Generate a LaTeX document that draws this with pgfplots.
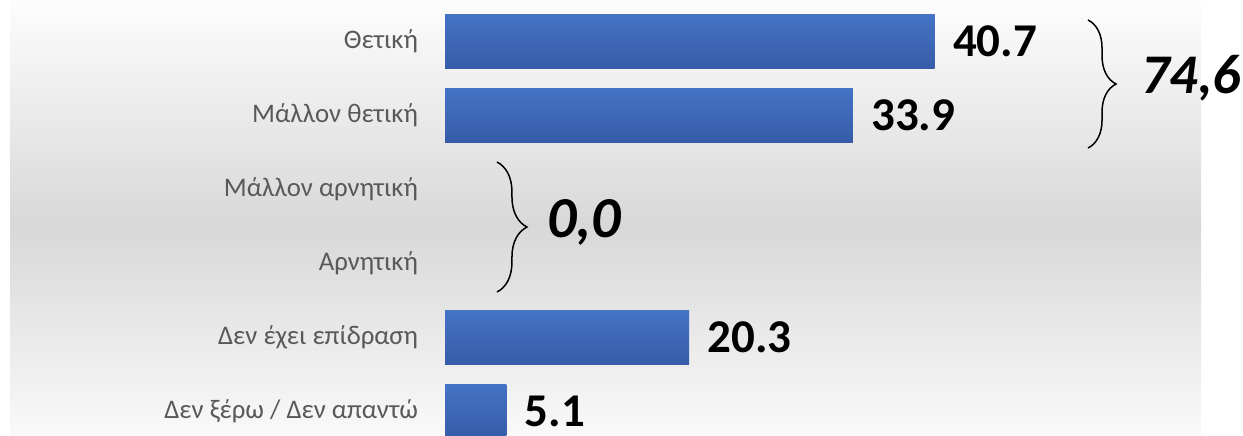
\documentclass[border=0pt]{standalone}
\usepackage{pgfplots}
\pgfplotsset{compat=1.18}
\usepackage{fontspec}
\setmainfont{Carlito}
\usetikzlibrary{decorations.pathreplacing}
\definecolor{barTop}{RGB}{69,115,197}
\definecolor{barBot}{RGB}{54,92,168}
\definecolor{lbl}{RGB}{89,89,89}
\definecolor{bgMid}{RGB}{216,216,216}
\definecolor{bgTop}{RGB}{253,253,253}
\definecolor{bgBot}{RGB}{249,249,249}
\begin{document}
\begin{tikzpicture}
\path[use as bounding box] (0pt,0pt) rectangle (621.5pt,-217.5pt);
\begin{scope}[x=0.5pt,y=-0.5pt]
\shade[top color=bgTop, bottom color=bgMid] (10,0) rectangle (1201,226);
\shade[top color=bgMid, bottom color=bgBot] (10,225) rectangle (1201,435);
\end{scope}
\begin{axis}[
  at={(222.5pt,0pt)}, anchor=north west,
  scale only axis, width=399pt, height=217.5pt,
  xmin=0, xmax=66.33, ymin=-0.554, ymax=5.324, y dir=reverse,
  xbar, bar width=27pt, bar shift=0pt,
  axis line style={draw=none}, major tick style={draw=none},
  xtick=\empty, ytick={0,1,2,3,4,5},
  yticklabels={Θετική, Μάλλον θετική, Μάλλον αρνητική, Αρνητική, Δεν έχει επίδραση, Δεν ξέρω / Δεν απαντώ},
  yticklabel style={font=\fontsize{13.4}{15}\selectfont, text=lbl, inner xsep=0pt, xshift=-9pt},
  point meta=explicit symbolic,
  nodes near coords,
  nodes near coords style={anchor=west, font=\bfseries\fontsize{23.5}{26}\selectfont, text=black, xshift=9pt, inner xsep=0pt},
  every axis plot/.append style={draw=none, top color=barTop, bottom color=barBot},
]
\addplot coordinates {(40.7,0) [40.7]};
\addplot coordinates {(33.9,1) [33.9]};
\addplot coordinates {(20.3,4) [20.3]};
\addplot coordinates {(5.1,5) [5.1]};
\draw[line width=0.75pt, decorate, decoration={brace, amplitude=14pt}] (axis cs:53.45,-0.284) -- (axis cs:53.45,1.446);
\draw[line width=0.75pt, decorate, decoration={brace, amplitude=15pt}] (axis cs:4.32,1.635) -- (axis cs:4.32,3.392);
\node[anchor=base west, inner sep=0pt, font=\bfseries\itshape\fontsize{28}{30}\selectfont] at (axis cs:57.85,0.703) {74,6};
\node[anchor=base west, inner sep=0pt, font=\bfseries\itshape\fontsize{29}{31}\selectfont] at (axis cs:8.45,2.649) {0,0};
\end{axis}
\end{tikzpicture}
\end{document}
